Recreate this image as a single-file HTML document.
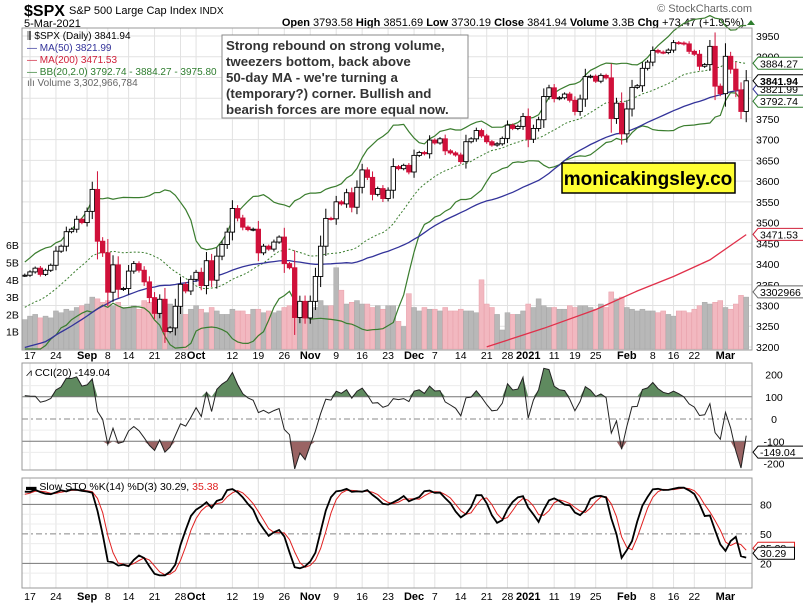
<!DOCTYPE html>
<html><head><meta charset="utf-8"><style>
body{margin:0;background:#fff;width:803px;height:607px;overflow:hidden;font-family:"Liberation Sans",sans-serif}
svg text{font-family:"Liberation Sans",sans-serif}
</style></head><body>
<svg id="c" width="803" height="607" viewBox="0 0 803 607" xmlns="http://www.w3.org/2000/svg">
<rect width="803" height="607" fill="#fff"/>
<g>
<text x="24" y="16" font-size="16" font-weight="bold">$SPX</text>
<text x="69" y="14" font-size="11">S&amp;P 500 Large Cap Index <tspan font-size="10">INDX</tspan></text>
<text x="24" y="27" font-size="11">5-Mar-2021</text>
<text x="744" y="26" font-size="11" text-anchor="end"><tspan font-weight="bold">Open</tspan> 3793.58 <tspan font-weight="bold">High</tspan> 3851.69 <tspan font-weight="bold">Low</tspan> 3730.19 <tspan font-weight="bold">Close</tspan> 3841.94 <tspan font-weight="bold">Volume</tspan> 3.3B <tspan font-weight="bold">Chg</tspan> +73.47 (+1.95%)</text>
<path d="M747 25 L751 20 L755 25 Z" fill="#2e7d2e"/>
<text x="752" y="12" font-size="11" fill="#666" text-anchor="end">© StockCharts.com</text>
</g>
<g id="grid"></g>
<g id="vol"></g>
<g id="main"></g>
<g id="cci"></g>
<g id="sto"></g>
<g id="axes"></g>
<g font-size="10">
<text x="27" y="39">⫼ $SPX (Daily) 3841.94</text>
<text x="27" y="51" fill="#33339a">— MA(50) 3821.99</text>
<text x="27" y="63" fill="#d0203a">— MA(200) 3471.53</text>
<text x="27" y="75" fill="#2e7d2e">— BB(20,2.0) 3792.74 - 3884.27 - 3975.80</text>
<text x="27" y="86" fill="#666">ılı Volume 3,302,966,784</text>
</g>
<g>
<rect x="222" y="35" width="246" height="83" fill="#fff" stroke="#888" stroke-width="1"/>
<text font-size="13.3" font-weight="bold" fill="#333">
<tspan x="226" y="50">Strong rebound on strong volume,</tspan>
<tspan x="226" y="66">tweezers bottom, back above</tspan>
<tspan x="226" y="82">50-day MA - we're turning a</tspan>
<tspan x="226" y="98">(temporary?) corner. Bullish and</tspan>
<tspan x="226" y="114">bearish forces are more equal now.</tspan>
</text></g>
<g>
<rect x="562" y="163" width="173" height="30" fill="#ffff33" stroke="#000" stroke-width="1.5"/>
<text x="648" y="185" font-size="19" font-weight="bold" text-anchor="middle">monicakingsley.co</text>
</g>
</svg>
<script>
const priorCloses=[3193,3232,3207,3190,3002,3041,3066,3125,3113,3115,3098,3117,3131,3050,3083,3009,3053,3100,3115,3130,3179,3145,3169,3152,3185,3155,3197,3227,3215,3224,3251,3257,3276,3236,3215,3239,3218,3258,3246,3271,3295,3306,3327,3349,3351,3360,3333,3380,3373];
const closes=[3373,3381,3390,3375,3385,3397,3431,3443,3478,3484,3508,3500,
3527,3580,3455,3427,3332,3398,3339,3341,3383,3401,3385,3357,3319,3281,3315,3237,3246,3298,3351,3335,3363,
3380,3348,3408,3361,3419,3447,3477,3534,3511,3489,3483,3484,3427,3443,3436,3453,3465,3401,3391,3271,3310,3270,
3310,3370,3443,3510,3509,3550,3545,3572,3537,3585,3627,3609,3568,3582,3558,3578,3635,3630,3638,3622,
3662,3669,3666,3699,3692,3702,3673,3668,3663,3647,3695,3702,3722,3709,3695,3687,3690,3703,3735,3727,3732,3756,
3701,3727,3748,3804,3825,3799,3801,3810,3795,3768,3798,3852,3853,3841,3855,3849,3751,3788,3714,
3774,3826,3830,3872,3887,3915,3911,3910,3916,3934,3933,3931,3913,3906,3877,3881,3925,3829,3811,
3901,3870,3820,3768,3842];
const volumes=[1.7,1.9,2.0,1.8,1.9,1.8,2.2,2.1,2.3,2.2,2.4,2.5,
2.6,3.0,2.9,2.7,2.8,2.5,2.7,2.4,2.4,2.5,2.3,2.8,2.7,2.6,2.4,2.5,2.6,2.1,2.4,2.0,2.3,
2.5,2.3,2.1,2.4,2.2,2.0,2.0,2.3,2.2,2.2,2.0,2.3,2.3,2.1,2.2,2.1,2.2,2.4,2.5,2.4,2.7,2.5,
2.6,2.4,2.8,2.5,2.5,4.7,3.4,2.6,2.7,2.8,2.6,2.6,2.4,2.5,2.3,2.5,2.5,1.6,1.3,3.2,
2.4,2.2,2.4,2.3,2.3,2.2,2.4,2.2,2.2,2.3,2.2,2.2,2.1,4.0,2.6,2.4,2.0,1.1,2.1,2.0,2.0,2.2,
2.6,2.4,2.9,2.5,2.4,2.4,2.3,2.3,2.5,2.4,2.5,2.5,2.4,2.3,2.6,2.4,3.3,2.9,3.0,
2.4,2.3,2.2,2.3,2.2,2.2,2.1,2.2,2.0,1.9,2.2,2.2,2.1,2.3,2.5,2.7,2.6,2.7,2.8,
2.4,2.3,2.6,3.1,3.0];
const ma200Idx=[89,100,110,118,125,132,139];
const ma200Vals=[3200,3245,3290,3335,3370,3410,3471];
const priceTicks=[3200,3250,3300,3350,3400,3450,3500,3550,3600,3650,3700,3750,3800,3850,3900,3950];
const volTicks=[1,2,3,4,5,6];
const dateLabels=[[1,'17',0],[6,'24',0],[12,'Sep',1],[16,'8',0],[20,'14',0],[25,'21',0],[30,'28',0],[33,'Oct',1],[40,'12',0],[45,'19',0],[50,'26',0],[55,'Nov',1],[60,'9',0],[65,'16',0],[70,'23',0],[75,'Dec',1],[79,'7',0],[84,'14',0],[89,'21',0],[93,'28',0],[97,'2021',1],[102,'11',0],[106,'19',0],[110,'25',0],[116,'Feb',1],[121,'8',0],[125,'16',0],[129,'22',0],[135,'Mar',1]];
const cciTicks=[200,100,0,-100,-200];
const stoTicks=[80,50,20];

const NS='http://www.w3.org/2000/svg';
function mk(tag,attrs,parent){const e=document.createElementNS(NS,tag);for(const k in attrs)e.setAttribute(k,attrs[k]);parent.appendChild(e);return e;}
const X=i=>24.8+i*5.19;
const yP=p=>36+(3950-p)/50*20.73;
const yV=v=>349-v*17.3;
const yC=v=>419-v*0.2225;
const yS=v=>583-v*0.983;
const L=22,R=752;
const grid=document.getElementById('grid');
const panels=[[28,350],[363,470],[478,588]];
panels.forEach(([t,b])=>{dateLabels.forEach(d=>{const l=mk('line',{x1:X(d[0]),x2:X(d[0]),y1:t,y2:b,stroke:'#e2e2e2'},grid);});});
priceTicks.forEach(p=>{const l=mk('line',{x1:L,x2:R,y1:yP(p),y2:yP(p),stroke:'#e2e2e2'},grid);});
[150,50,-50,-150].forEach(v=>{mk('line',{x1:L,x2:R,y1:yC(v),y2:yC(v),stroke:'#ececec'},grid);});
[90,70,60,40,30,10].forEach(v=>{mk('line',{x1:L,x2:R,y1:yS(v),y2:yS(v),stroke:'#ececec'},grid);});
const all=priorCloses.concat(closes);const off=priorCloses.length;
const opens=closes.map((c,i)=>all[off+i-1]);
const highs=closes.map((c,i)=>Math.max(c,opens[i])+Math.max(4,Math.abs(c-opens[i])*0.35));
const lows=closes.map((c,i)=>Math.min(c,opens[i])-Math.max(4,Math.abs(c-opens[i])*0.35));
function sma(arr,n,j){let s=0;for(let k=j-n+1;k<=j;k++)s+=arr[k];return s/n;}
const ma50=closes.map((c,i)=>sma(all,50,off+i));
const bbM=[],bbU=[],bbL=[];
closes.forEach((c,i)=>{const j=off+i;const m=sma(all,20,j);let v=0;for(let k=j-19;k<=j;k++)v+=(all[k]-m)**2;const sd=Math.sqrt(v/20);bbM.push(m);bbU.push(m+2*sd);bbL.push(m-2*sd);});
const vg=document.getElementById('vol');
volumes.forEach((v,i)=>{const down=closes[i]<all[off+i-1];const r=mk('rect',{x:X(i)-2.5,y:yV(v),width:5,height:349-yV(v),fill:down?'#f2b8c0':'#b8b8b8',stroke:down?'#e8a0aa':'#a8a8a8','stroke-width':0.5},vg);});
const mg=document.getElementById('main');
function path(vals,xf,yf,attrs,name,parent,start){let d='';vals.forEach((v,i)=>{d+=(i?'L':'M')+xf(i+(start||0)).toFixed(1)+' '+yf(v).toFixed(1);});const p=mk('path',Object.assign({d:d,fill:'none'},attrs),parent);return p;}
const clipY=v=>Math.min(349,yP(v));
path(bbU,X,clipY,{stroke:'#3a7d2e','stroke-width':1.2},'bb-upper',mg);
path(bbL,X,clipY,{stroke:'#3a7d2e','stroke-width':1.2},'bb-lower',mg);
path(bbM,X,clipY,{stroke:'#3a7d2e','stroke-width':1,'stroke-dasharray':'2,2'},'bb-middle',mg);
path(ma50,X,clipY,{stroke:'#33339a','stroke-width':1.3},'ma50-line',mg);
{let d='';ma200Idx.forEach((ix,k)=>{d+=(k?'L':'M')+X(ix).toFixed(1)+' '+yP(ma200Vals[k]).toFixed(1);});const p=mk('path',{d:d,fill:'none',stroke:'#e0304a','stroke-width':1.3},mg);}
closes.forEach((c,i)=>{const o=opens[i];const down=c<o;const col=down?'#d0103a':'#000';const x=X(i);
const w=mk('line',{x1:x,x2:x,y1:yP(highs[i]),y2:yP(lows[i]),stroke:col,'stroke-width':1},mg);
const t=Math.min(yP(o),yP(c)),h=Math.max(1,Math.abs(yP(o)-yP(c)));
const r=mk('rect',{x:x-2.2,y:t,width:4.4,height:h,fill:down?col:'#fff',stroke:col,'stroke-width':0.9},mg);});
const cg=document.getElementById('cci');
const cci=closes.map((c,i)=>{const j=off+i;const m=sma(all,20,j);let md=0;for(let k=j-19;k<=j;k++)md+=Math.abs(all[k]-m);md/=20;return (c-m)/(0.015*md);});
const cciC=cci.map(v=>Math.max(-240,Math.min(230,v)));
function fillBand(vals,yf,thr,above,col,parent,name){let d='';vals.forEach((v,i)=>{const vv=above?Math.max(v,thr):Math.min(v,thr);d+=(i?'L':'M')+X(i).toFixed(1)+' '+yf(vv).toFixed(1);});d+='L'+X(vals.length-1)+' '+yf(thr)+'L'+X(0)+' '+yf(thr)+'Z';const p=mk('path',{d:d,fill:col,stroke:'none'},parent);}
fillBand(cciC,yC,100,true,'#5f8a5f',cg,'cci-overbought-fill');
fillBand(cciC,yC,-100,false,'#9a6464',cg,'cci-oversold-fill');
[100,-100].forEach(v=>mk('line',{x1:L,x2:R,y1:yC(v),y2:yC(v),stroke:'#777'},cg));
mk('line',{x1:L,x2:R,y1:yC(0),y2:yC(0),stroke:'#888','stroke-dasharray':'6,3,2,3'},cg);
path(cciC,X,yC,{stroke:'#222','stroke-width':1},'cci-line',cg);
const sg=document.getElementById('sto');
const allH=priorCloses.map(c=>c+8).concat(highs),allL=priorCloses.map(c=>c-8).concat(lows);
const fk=all.map((c,j)=>{if(j<13)return 50;let hh=-1e9,ll=1e9;for(let k=j-13;k<=j;k++){hh=Math.max(hh,allH[k]);ll=Math.min(ll,allL[k]);}return (c-ll)/(hh-ll)*100;});
const sk=fk.map((v,j)=>j<2?v:(fk[j]+fk[j-1]+fk[j-2])/3);
const sd=sk.map((v,j)=>j<2?v:(sk[j]+sk[j-1]+sk[j-2])/3);
const K=closes.map((c,i)=>sk[off+i]),D=closes.map((c,i)=>sd[off+i]);
[80,20].forEach(v=>mk('line',{x1:L,x2:R,y1:yS(v),y2:yS(v),stroke:'#777'},sg));
mk('line',{x1:L,x2:R,y1:yS(50),y2:yS(50),stroke:'#888','stroke-dasharray':'6,3,2,3'},sg);
path(D,X,yS,{stroke:'#e02020','stroke-width':1},'sto-d-line',sg);
path(K,X,yS,{stroke:'#000','stroke-width':1.8},'sto-k-line',sg);
const ag=document.getElementById('axes');
panels.forEach(([t,b])=>{const r=mk('rect',{x:L,y:t,width:R-L,height:b-t,fill:'none',stroke:'#999'},ag);});
function txt(x,y,s,attrs,name){const t=mk('text',Object.assign({x:x,y:y},attrs),ag);t.textContent=s;return t;}
priceTicks.forEach(p=>txt(756,yP(p)+4,String(p),{'font-size':10.5},'price-tick'));
volTicks.forEach(v=>txt(6,yV(v)+4,v+'B',{'font-size':10.5},'volume-tick'));
cciTicks.forEach(v=>txt(774,yC(v)+4,String(v),{'font-size':10.5,'text-anchor':'middle'},'cci-tick'));
stoTicks.forEach(v=>txt(760,yS(v)+4,String(v),{'font-size':10.5},'sto-tick'));
[359,600].forEach(y=>dateLabels.forEach(d=>txt(X(d[0]),y,d[1],{'font-size':d[2]?11:10.5,'font-weight':d[2]?'bold':'normal','text-anchor':'middle'},'date-tick')));
txt(26,376,'⩘ CCI(20) -149.04',{'font-size':10.5},'cci-legend');
const sl=txt(26,490,'▬ Slow STO %K(14) %D(3) 30.29, ',{'font-size':10.5},'sto-legend');
const ts=document.createElementNS(NS,'tspan');ts.setAttribute('fill','#e02020');ts.textContent='35.38';sl.appendChild(ts);
function tag(y,s,col,bold,name){const w=s.length*6.1+6;const p=mk('path',{d:`M753 ${y} L758 ${y-6} L${758+w} ${y-6} L${758+w} ${y+6} L758 ${y+6} Z`,fill:'#fff',stroke:col,'stroke-width':1},ag);txt(760,y+4,s,{'font-size':10.5,'font-weight':bold?'bold':'normal',fill:'#000'},name);}
tag(yP(3884.27),'3884.27','#2e7d2e',false,'bb-upper-label');
tag(yP(3821.99),'3821.99','#33339a',false,'ma50-label');
tag(yP(3841.94),'3841.94','#000',true,'close-label');
tag(yP(3792.74),'3792.74','#2e7d2e',false,'bb-lower-label');
tag(yP(3471.53),'3471.53','#d0203a',false,'ma200-label');
tag(yV(3.30),'3302966','#666',false,'volume-label');
tag(yC(-149.04),'-149.04','#000',false,'cci-value-label');
tag(yS(35.38),'35.38','#e02020',false,'sto-d-label');
tag(yS(30.29),'30.29','#000',false,'sto-k-label');
</script>
</body></html>
